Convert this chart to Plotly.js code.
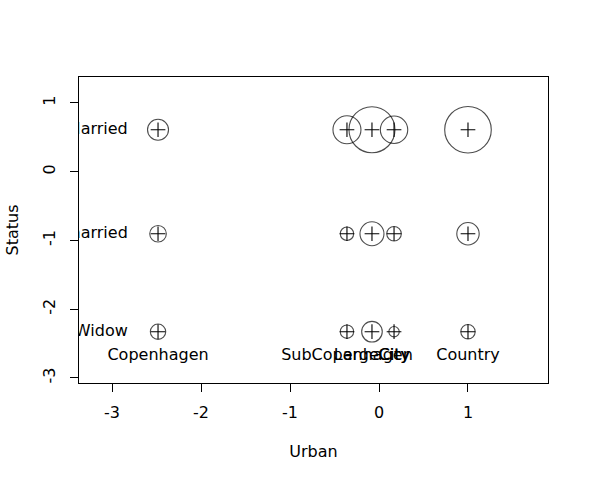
<!DOCTYPE html>
<html>
<head>
<meta charset="utf-8">
<script src="https://cdn.plot.ly/plotly-3.0.1.min.js"></script>
<style>html,body{margin:0;padding:0;background:#fff;}#chart{width:589px;height:483px;}</style>
</head>
<body>
<div id="chart"></div>
<script>
// Row categories (Status) and their coordinates
var rowLabels = ["Married", "Unmarried", "Widow"];
var rowY = [0.611, -0.902, -2.327];
// Column categories (Urban) and their coordinates
var colLabels = ["Copenhagen", "SubCopenhagen", "LargeCity", "City", "Country"];
var colX = [-2.483, -0.36, -0.079, 0.169, 1.0];
// Circle magnitudes per row (one value per column)
var married   = [10.5, 14.0, 23.0, 13.7, 23.3];
var unmarried = [8.3, 6.7, 12.0, 7.3, 11.2];
var widow     = [7.7, 6.7, 10.3, 5.2, 7.2];
var xTicks = [-3, -2, -1, 0, 1];
var yTicks = [-3, -2, -1, 0, 1];

var rows = [married, unmarried, widow];
var px = [], py = [], ps = [];
for (var i = 0; i < rows.length; i++) {
  for (var j = 0; j < colX.length; j++) {
    px.push(colX[j]); py.push(rowY[i]); ps.push(rows[i][j]);
  }
}
var FONT = {family: "DejaVu Sans, sans-serif", size: 16, color: "#000"};
var traces = [
  {type: "scatter", mode: "markers", x: px, y: py, hoverinfo: "none",
   marker: {symbol: "circle-open", size: ps, sizemode: "diameter", sizeref: 0.5,
            color: "#000", line: {color: "#000", width: 1.1}}},
  {type: "scatter", mode: "markers", x: px, y: py, hoverinfo: "none",
   marker: {symbol: "cross-thin-open", size: 10.5, color: "#000", line: {color: "#000", width: 1.1}}},
  {type: "scatter", mode: "text", x: rowY.map(function(){ return Math.min.apply(null, colX) - 0.34; }),
   y: rowY, text: rowLabels, textposition: "middle left", textfont: FONT, cliponaxis: true, hoverinfo: "none"},
  {type: "scatter", mode: "text", x: colX,
   y: colX.map(function(){ return Math.min.apply(null, rowY) - 0.35; }),
   text: colLabels, textposition: "middle center", textfont: FONT, cliponaxis: true, hoverinfo: "none"}
];
var axisCommon = {showline: true, mirror: true, linecolor: "#000", linewidth: 1,
  ticks: "outside", ticklen: 8, tickwidth: 1, tickcolor: "#000",
  showgrid: false, zeroline: false, tickfont: FONT};
var layout = {
  width: 589, height: 483, showlegend: false,
  paper_bgcolor: "#fff", plot_bgcolor: "#fff",
  margin: {l: 79, r: 41, t: 77, b: 100},
  font: FONT,
  xaxis: Object.assign({}, axisCommon, {range: [-3.371, 1.899], tickvals: xTicks,
    ticktext: xTicks.map(String), ticklabelstandoff: 7, title: {text: "Urban", font: FONT, standoff: 24}}),
  yaxis: Object.assign({}, axisCommon, {range: [-3.073, 1.378], tickvals: yTicks,
    ticktext: yTicks.map(String), tickangle: -90, ticklabelstandoff: 9, title: {text: "Status", font: FONT, standoff: 16}})
};
Plotly.newPlot("chart", traces, layout, {staticPlot: true, displayModeBar: false});
</script>
</body>
</html>
